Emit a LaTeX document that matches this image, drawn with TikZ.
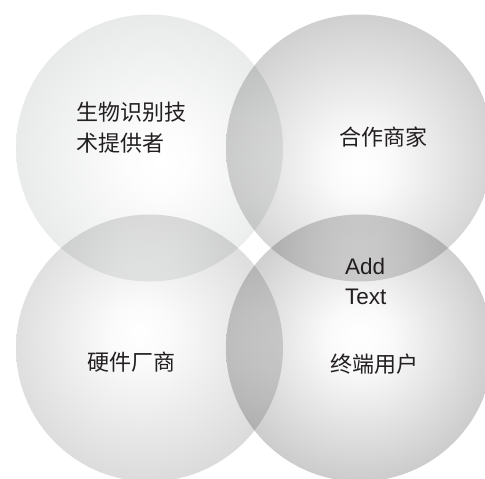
\documentclass[tikz,border=0pt]{standalone}
\usepackage{fontspec}
\setmainfont{Liberation Sans}
\newfontfamily\cjk{Noto Sans CJK SC}
\definecolor{txt}{RGB}{35,31,32}
\pgfdeclareradialshading{shTL}{\pgfpoint{2bp}{-3bp}}{rgb(0bp)=(1,1,1); rgb(6bp)=(0.99,0.99,0.99); rgb(50bp)=(0.82,0.83,0.83)}
\pgfdeclareradialshading{shTR}{\pgfpoint{0bp}{-4bp}}{rgb(0bp)=(1,1,1); rgb(6bp)=(0.98,0.98,0.98); rgb(50bp)=(0.63,0.63,0.63)}
\pgfdeclareradialshading{shBL}{\pgfpoint{-2bp}{3bp}}{rgb(0bp)=(1,1,1); rgb(6bp)=(0.98,0.98,0.98); rgb(50bp)=(0.72,0.72,0.72)}
\pgfdeclareradialshading{shBR}{\pgfpoint{0bp}{2bp}}{rgb(0bp)=(1,1,1); rgb(6bp)=(0.98,0.98,0.98); rgb(50bp)=(0.58,0.58,0.58)}
\begin{document}
\begin{tikzpicture}[x=1pt,y=-1pt,
  bubble/.style={circle, minimum size=267pt, inner sep=0pt, draw=none, blend mode=multiply},
  label/.style={inner sep=0pt, text=txt, font=\cjk\fontsize{22}{31}\selectfont, align=left},
  en/.style={inner sep=0pt, text=txt, font=\fontsize{22.5}{30}\selectfont, align=left}]
\fill[white] (0,0) rectangle (485,479);
\useasboundingbox (0,0) rectangle (485,479);
\node[bubble, shading=shTL] (tl) at (149.5,148) {};
\node[bubble, shading=shTR] (tr) at (359.5,148) {};
\node[bubble, shading=shBL] (bl) at (149.5,348) {};
\node[bubble, shading=shBR] (br) at (359.5,348) {};
\node[label] (t1) at (131.5,128) {生物识别技\\术提供者};
\node[label] (t2) at (383,137.5) {合作商家};
\node[label] (t3) at (131,362) {硬件厂商};
\node[label] (t4) at (374.5,364) {终端用户};
\node[en, anchor=west] (t5) at (345,281) {Add\\Text};
\end{tikzpicture}
\end{document}
